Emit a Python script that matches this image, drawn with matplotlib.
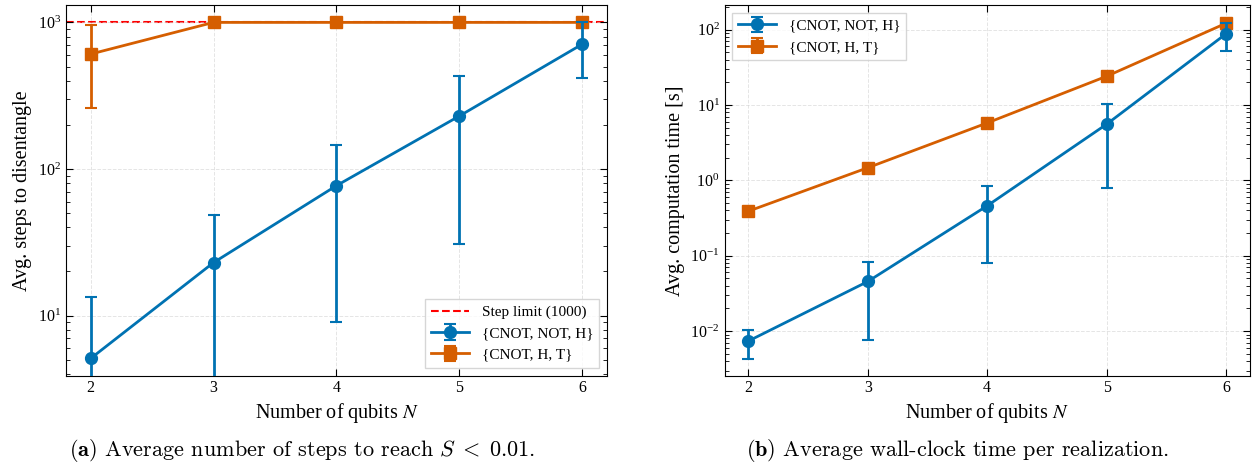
import matplotlib as mpl
mpl.use('agg')
import matplotlib.pyplot as plt

plt.rc('font', family='Liberation Serif', size=11.5)
plt.rc('mathtext', fontset='stix')

# qubit counts
n_qubits = [2, 3, 4, 5, 6]

# (a) average steps to disentangle (mean, std)
steps_cnh = [5.1, 23, 77, 230, 711]
steps_cnh_err = [8.4, 25.5, 68, 199, 292]
steps_cht = [608, 1000, 1000, 1000, 1000]
steps_cht_err = [347, 0, 0, 0, 0]
step_limit = 1000

# (b) average computation time in seconds (mean, std)
time_cnh = [0.0074, 0.0456, 0.46, 5.55, 87.7]
time_cnh_err = [0.0031, 0.038, 0.38, 4.75, 36]
time_cht = [0.39, 1.47, 5.77, 24.0, 121]
time_cht_err = [0.02, 0.08, 0.3, 1.5, 6]

labels = [r"{CNOT, NOT, H}", r"{CNOT, H, T}"]
blue = '#0072B2'
orange = '#D55E00'

fig = plt.figure(figsize=(12.6, 4.73), dpi=100)
ax1 = fig.add_axes([0.0524, 0.206, 0.4293, 0.783])
ax2 = fig.add_axes([0.575, 0.206, 0.417, 0.783])

style = dict(lw=2, elinewidth=2, capsize=4, capthick=1.5)

ax1.axhline(step_limit, color='red', ls='--', lw=1.5, label='Step limit (1000)', zorder=1)
ax1.errorbar(n_qubits, steps_cnh, yerr=steps_cnh_err, color=blue, marker='o',
             ms=8.5, label=labels[0], zorder=3, **style)
ax1.errorbar(n_qubits, steps_cht, yerr=steps_cht_err, color=orange, marker='s',
             ms=8, label=labels[1], zorder=2, **style)
ax1.set_yscale('log')
ax1.set_ylim(3.9, 1310)
ax1.set_ylabel('Avg. steps to disentangle', fontsize=14.5)
ax1.legend(loc='lower right', fancybox=False, edgecolor='0.8', fontsize=11,
           handlelength=2.5)

ax2.errorbar(n_qubits, time_cnh, yerr=time_cnh_err, color=blue, marker='o',
             ms=8.5, label=labels[0], zorder=3, **style)
ax2.errorbar(n_qubits, time_cht, yerr=time_cht_err, color=orange, marker='s',
             ms=8, label=labels[1], zorder=2, **style)
ax2.set_yscale('log')
ax2.set_ylim(0.00258, 210)
ax2.set_ylabel('Avg. computation time [s]', fontsize=14.5)
ax2.legend(loc='upper left', fancybox=False, edgecolor='0.8', fontsize=11,
           handlelength=2.5)

for ax in (ax1, ax2):
    ax.set_xlim(1.8, 6.2)
    ax.set_xticks(n_qubits)
    ax.set_xlabel(r'Number of qubits $N$', fontsize=14.5, labelpad=3)
    ax.tick_params(which='both', direction='in', top=True, right=True)
    ax.tick_params(which='major', length=5)
    ax.tick_params(which='minor', length=3)
    ax.tick_params(axis='x', which='minor', bottom=False, top=False)
    ax.grid(True, which='major', ls='--', color='lightgrey', alpha=0.6, lw=0.7)

cap = dict(family='cmr10', math_fontfamily='cm', fontsize=16, ha='center', va='baseline')
fig.text(0.24, 0.036, r'$\mathbf{(a)}$ Average number of steps to reach $S\;<\;0.01$.', **cap)
fig.text(0.7595, 0.036, r'$\mathbf{(b)}$ Average wall-clock time per realization.', **cap)

fig.savefig('out.png', dpi=100)
